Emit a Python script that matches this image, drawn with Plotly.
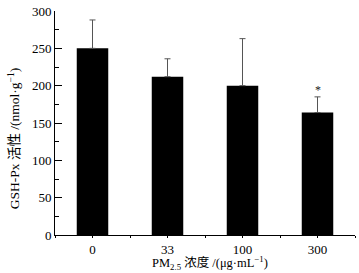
import plotly.graph_objects as go

categories = ["0", "33", "100", "300"]
means = [250, 212, 200, 164]
errors = [38, 24, 63, 21]
signif = ["", "", "", "*"]
y_ticks = [0, 50, 100, 150, 200, 250, 300]

FONT = "Liberation Serif, Times New Roman, Noto Sans CJK SC, serif"
xpos = list(range(len(categories)))

fig = go.Figure()
fig.add_trace(go.Bar(
    x=xpos, y=means, width=0.42,
    marker=dict(color="black", line=dict(width=0)),
    error_y=dict(type="data", symmetric=False, array=errors,
                 arrayminus=[0] * len(errors), color="#555555",
                 thickness=1, width=3),
    showlegend=False,
))

for xi, m, e, s in zip(xpos, means, errors, signif):
    if s:
        fig.add_annotation(x=xi, y=m + e, text=s, showarrow=False,
                           yanchor="bottom", yshift=-2,
                           font=dict(family=FONT, size=12, color="#222"))

fig.add_annotation(
    xref="paper", yref="paper", x=-0.135, y=0.43,
    text="GSH-Px 活性 /(nmol·g<sup>−1</sup>)", textangle=-90,
    showarrow=False, xanchor="center", yanchor="middle",
    font=dict(family=FONT, size=13.5, color="black"))

fig.add_annotation(
    xref="paper", yref="paper", x=0.517, y=-0.125,
    text="PM<sub>2.5</sub> 浓度 /(μg·mL<sup>−1</sup>)",
    showarrow=False, xanchor="center", yanchor="middle",
    font=dict(family=FONT, size=12.5, color="black"))

fig.update_layout(
    width=359, height=273,
    margin=dict(l=55, r=4, t=11, b=38),
    paper_bgcolor="white", plot_bgcolor="white",
    font=dict(family=FONT, size=13, color="black"),
    xaxis=dict(
        range=[-0.5, 3.5], tickvals=xpos, ticktext=categories,
        showline=True, linecolor="black", linewidth=1,
        ticks="outside", ticklen=2, tickcolor="black",
        minor=dict(tick0=-0.5, dtick=1, ticks="outside", ticklen=2,
                   tickcolor="black"),
        showgrid=False, zeroline=False,
    ),
    yaxis=dict(
        range=[0, 300], tickvals=y_ticks,
        showline=True, linecolor="black", linewidth=1,
        ticks="inside", ticklen=7, tickcolor="black",
        minor=dict(dtick=25, ticks="inside", ticklen=4, tickcolor="black"),
        showgrid=False, zeroline=False,
    ),
)

fig.write_html("out.html", config={"displayModeBar": False},
               post_script="document.body.style.margin='0';document.body.style.padding='0';")
